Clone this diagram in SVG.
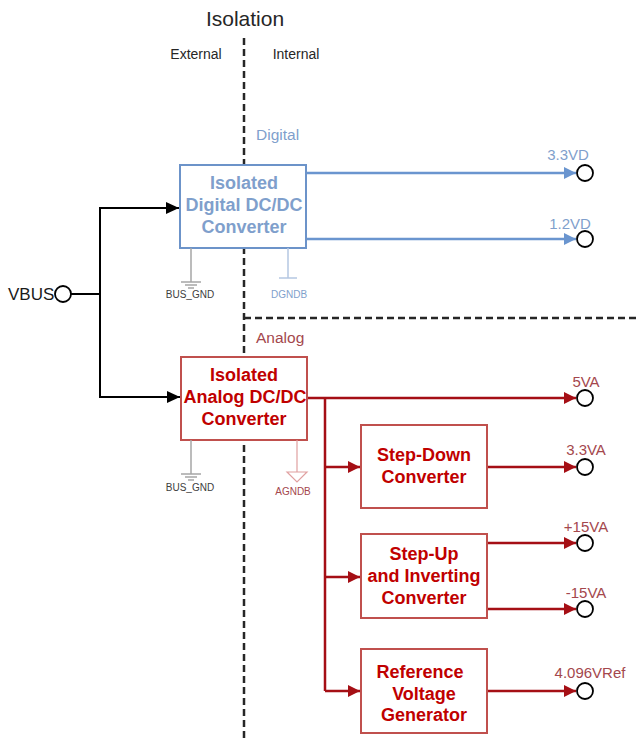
<svg xmlns="http://www.w3.org/2000/svg" width="637" height="738" viewBox="0 0 637 738">
<style>
  text { font-family: "Liberation Sans", Arial, sans-serif; }
  .hdr { fill: #262626; font-size: 14px; }
  .box-d { fill: #ffffff; stroke: #6c93c9; stroke-width: 2; }
  .box-a { fill: #ffffff; stroke: #c0504d; stroke-width: 2; }
  .t-d { fill: #7f9fcc; font-size: 18px; font-weight: bold; text-anchor: middle; }
  .t-a { fill: #c00000; font-size: 18px; font-weight: bold; text-anchor: middle; }
  .lbl-d { fill: #7f9fcc; font-size: 15px; text-anchor: middle; }
  .lbl-a { fill: #a4474d; font-size: 15px; text-anchor: middle; }
  .gnd { stroke: #a6a6a6; stroke-width: 1.5; fill: none; }
  .gtxt { fill: #404040; font-size: 10px; text-anchor: middle; }
  .dash { stroke: #262626; stroke-width: 2.5; stroke-dasharray: 7 4; fill: none; }
  .wk { stroke: #000000; stroke-width: 2; fill: none; }
  .wb { stroke: #6a95cf; stroke-width: 2.5; fill: none; }
  .wr { stroke: #a50f15; stroke-width: 2.5; fill: none; }
  .port { fill: #ffffff; stroke: #000000; stroke-width: 1.8; }
</style>
<defs>
  <marker id="ak" markerUnits="userSpaceOnUse" markerWidth="14" markerHeight="12" refX="13" refY="6" orient="auto"><path d="M0,0 L13,6 L0,12 z" fill="#000000"/></marker>
  <marker id="ab" markerUnits="userSpaceOnUse" markerWidth="14" markerHeight="12" refX="12" refY="6" orient="auto"><path d="M0,0 L12,6 L0,12 z" fill="#6a95cf"/></marker>
  <marker id="ar" markerUnits="userSpaceOnUse" markerWidth="14" markerHeight="12" refX="12" refY="6" orient="auto"><path d="M0,0 L12,6 L0,12 z" fill="#a50f15"/></marker>
</defs>
<rect width="637" height="738" fill="#ffffff"/>

<g id="headers">
  <text x="245" y="26" font-size="21" fill="#262626" text-anchor="middle">Isolation</text>
  <text class="hdr" x="196" y="59" text-anchor="middle">External</text>
  <text class="hdr" x="296" y="59" text-anchor="middle">Internal</text>
  <text x="256" y="140" font-size="15.5" fill="#7f9fcc">Digital</text>
  <text x="256" y="343" font-size="15.5" fill="#a4474d">Analog</text>
  <path class="dash" d="M244,38 V738"/>
  <path class="dash" d="M244,318 H637"/>
</g>

<g id="connectors">
  <path class="wk" d="M71,294 H100"/>
  <path class="wk" d="M100,294 V208 H179" marker-end="url(#ak)"/>
  <path class="wk" d="M100,294 V397 H180" marker-end="url(#ak)"/>
  <path class="wb" d="M306,173 H576" marker-end="url(#ab)"/>
  <path class="wb" d="M306,239 H576" marker-end="url(#ab)"/>
  <path class="wr" d="M307,398 H576" marker-end="url(#ar)"/>
  <path class="wr" d="M325,398 V691"/>
  <path class="wr" d="M325,467 H360" marker-end="url(#ar)"/>
  <path class="wr" d="M325,577 H360" marker-end="url(#ar)"/>
  <path class="wr" d="M325,691 H360" marker-end="url(#ar)"/>
  <path class="wr" d="M487,467 H576" marker-end="url(#ar)"/>
  <path class="wr" d="M487,543 H576" marker-end="url(#ar)"/>
  <path class="wr" d="M487,609 H576" marker-end="url(#ar)"/>
  <path class="wr" d="M487,691 H576" marker-end="url(#ar)"/>
</g>

<g id="vbus">
  <text x="8" y="300" font-size="17" fill="#1a1a1a">VBUS</text>
  <circle class="port" cx="63" cy="294" r="8"/>
</g>

<g id="digital-dcdc">
  <rect class="box-d" x="180" y="165" width="126" height="83"/>
  <text class="t-d" x="244" y="189">Isolated</text>
  <text class="t-d" x="244" y="211">Digital DC/DC</text>
  <text class="t-d" x="244" y="233">Converter</text>
</g>

<g id="gnd-digital">
  <path class="gnd" d="M191,248 V282 M181,282 H201 M185,285 H197 M188,288 H194"/>
  <text class="gtxt" x="190" y="298">BUS_GND</text>
  <path d="M288,248 V278 M279,278 H297" stroke="#b5c7e2" stroke-width="1.5" fill="none"/>
  <text x="289" y="298" font-size="10" fill="#7f9fcc" text-anchor="middle">DGNDB</text>
</g>

<g id="out-digital">
  <circle class="port" cx="585" cy="173" r="8"/>
  <text class="lbl-d" x="568" y="160">3.3VD</text>
  <circle class="port" cx="585" cy="239" r="8"/>
  <text class="lbl-d" x="570" y="229">1.2VD</text>
</g>

<g id="analog-dcdc">
  <rect class="box-a" x="181" y="357" width="126" height="83"/>
  <text class="t-a" x="244" y="381">Isolated</text>
  <text class="t-a" x="245" y="403">Analog DC/DC</text>
  <text class="t-a" x="244" y="425">Converter</text>
</g>

<g id="gnd-analog">
  <path class="gnd" d="M191,440 V474 M181,474 H201 M185,477 H197 M188,480 H194"/>
  <text class="gtxt" x="190" y="491">BUS_GND</text>
  <path d="M297,440 V472 M287,472 H307 L297,482 Z" stroke="#e0a0a0" stroke-width="1.2" fill="none"/>
  <text x="293" y="495" font-size="10" fill="#a4474d" text-anchor="middle">AGNDB</text>
</g>

<g id="step-down">
  <rect class="box-a" x="361" y="425" width="126" height="83"/>
  <text class="t-a" x="424" y="461">Step-Down</text>
  <text class="t-a" x="424" y="483">Converter</text>
</g>

<g id="step-up">
  <rect class="box-a" x="361" y="534" width="126" height="84"/>
  <text class="t-a" x="424" y="560">Step-Up</text>
  <text class="t-a" x="424" y="582">and Inverting</text>
  <text class="t-a" x="424" y="604">Converter</text>
</g>

<g id="reference">
  <rect class="box-a" x="361" y="649" width="126" height="84"/>
  <text class="t-a" x="420" y="678">Reference</text>
  <text class="t-a" x="424" y="700">Voltage</text>
  <text class="t-a" x="424" y="721">Generator</text>
</g>

<g id="out-analog">
  <circle class="port" cx="585" cy="398" r="8"/>
  <text class="lbl-a" x="586" y="387">5VA</text>
  <circle class="port" cx="585" cy="467" r="8"/>
  <text class="lbl-a" x="586" y="455">3.3VA</text>
  <circle class="port" cx="585" cy="543" r="8"/>
  <text class="lbl-a" x="586" y="532">+15VA</text>
  <circle class="port" cx="585" cy="609" r="8"/>
  <text class="lbl-a" x="586" y="598">-15VA</text>
  <circle class="port" cx="585" cy="691" r="8"/>
  <text class="lbl-a" x="590" y="678">4.096VRef</text>
</g>
</svg>
